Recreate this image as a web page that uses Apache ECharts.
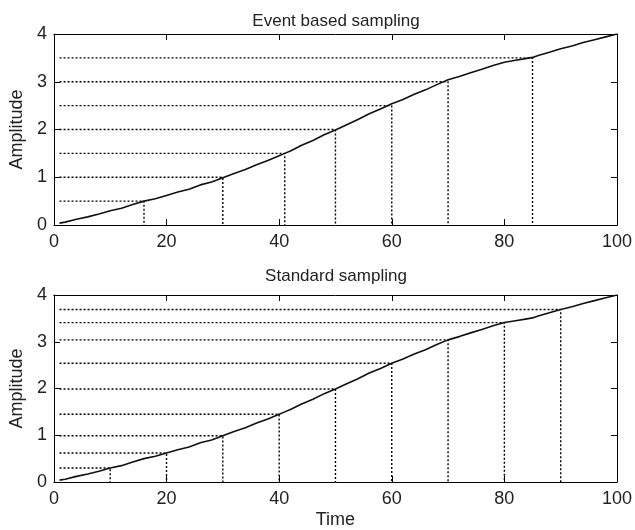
<!DOCTYPE html>
<html>
<head>
<meta charset="utf-8">
<script src="https://cdn.jsdelivr.net/npm/echarts@6/dist/echarts.min.js"></script>
<style>
  html, body { margin: 0; padding: 0; background: #fff; }
  #chart { width: 635px; height: 530px; }
</style>
</head>
<body>
<div id="chart"></div>
<script>
// Signal: amplitude ramp over time
const curveTime = [1, 2, 4, 6, 8, 10, 12, 14, 16, 18, 20, 22, 24, 26, 28, 30, 32, 34, 36, 38,
  40, 41, 42, 44, 46, 48, 50, 52, 54, 56, 58, 60, 62, 64, 66, 68, 70, 72, 74, 76, 78,
  80, 82, 84, 85, 86, 88, 90, 92, 94, 96, 98, 100];
const curveAmp = [0.04, 0.06, 0.12, 0.17, 0.23, 0.30, 0.35, 0.43, 0.50, 0.55, 0.62, 0.69, 0.75, 0.84, 0.90, 0.99, 1.08, 1.16, 1.26, 1.35,
  1.45, 1.50, 1.55, 1.67, 1.77, 1.89, 1.99, 2.10, 2.21, 2.33, 2.43, 2.54, 2.63, 2.74, 2.83, 2.94, 3.04, 3.11, 3.19, 3.26, 3.34,
  3.41, 3.45, 3.49, 3.51, 3.55, 3.62, 3.69, 3.75, 3.82, 3.88, 3.94, 4.00];

// Event based sampling: level crossings
const eventTimes = [16, 30, 41, 50, 60, 70, 85];
const eventLevels = [0.5, 1.0, 1.5, 2.0, 2.5, 3.0, 3.5];

// Standard sampling: fixed period
const stdTimes = [10, 20, 30, 40, 50, 60, 70, 80, 90];
const stdAmps = [0.30, 0.62, 0.99, 1.45, 1.99, 2.54, 3.04, 3.41, 3.69];

const xTicks = [0, 20, 40, 60, 80, 100];
const yTicks = [0, 1, 2, 3, 4];

const startTime = 1;
const FONT = '"Liberation Sans", Arial, sans-serif';
const TXT = '#222';

const chart = echarts.init(document.getElementById('chart'), null, { renderer: 'canvas' });

const grids = [
  { left: 48, right: 17, top: 34, height: 191 },
  { left: 48, right: 17, top: 295, height: 188 }
];

function xAx(gridIndex, pos, showLabels, name) {
  return {
    type: 'value', gridIndex, position: pos,
    min: xTicks[0], max: xTicks[xTicks.length - 1], interval: 20,
    name: name || '', nameLocation: 'middle', nameGap: 29,
    nameTextStyle: { fontFamily: FONT, fontSize: 18, color: TXT },
    axisLine: { show: true, onZero: false, lineStyle: { color: '#000', width: 1 } },
    axisTick: { show: true, inside: true, length: 6, lineStyle: { color: '#000' } },
    axisLabel: { show: showLabels, margin: 8, fontFamily: FONT, fontSize: 18, color: TXT },
    splitLine: { show: false }
  };
}
function yAx(gridIndex, pos, showLabels, name) {
  return {
    type: 'value', gridIndex, position: pos,
    min: yTicks[0], max: yTicks[yTicks.length - 1], interval: 1,
    name: name || '', nameLocation: 'middle', nameGap: 20,
    nameTextStyle: { fontFamily: FONT, fontSize: 18, color: TXT },
    axisLine: { show: true, onZero: false, lineStyle: { color: '#000', width: 1 } },
    axisTick: { show: true, inside: true, length: 6, lineStyle: { color: '#000' } },
    axisLabel: { show: showLabels, margin: 7, fontFamily: FONT, fontSize: 18, color: TXT },
    splitLine: { show: false }
  };
}

const dotted = { color: '#000', width: 1.4, type: [2, 2] };

function sampleSeries(times, values, axisIdx) {
  return times.map((t, i) => ({
    type: 'line', xAxisIndex: axisIdx, yAxisIndex: axisIdx,
    data: [[startTime, values[i]], [t, values[i]], [t, 0]],
    symbol: 'none', silent: true, z: 2,
    lineStyle: dotted
  }));
}

const curveData = curveTime.map((t, i) => [t, curveAmp[i]]);
function curveSeries(axisIdx) {
  return {
    type: 'line', xAxisIndex: axisIdx, yAxisIndex: axisIdx,
    data: curveData, symbol: 'none', silent: true, z: 3,
    lineStyle: { color: '#111', width: 1.6 }
  };
}

chart.setOption({
  animation: false,
  backgroundColor: '#fff',
  title: [
    { text: 'Event based sampling', left: 331, textAlign: 'center', top: 8,
      textStyle: { fontFamily: FONT, fontSize: 17, fontWeight: 'normal', color: TXT } },
    { text: 'Standard sampling', left: 331, textAlign: 'center', top: 263,
      textStyle: { fontFamily: FONT, fontSize: 17, fontWeight: 'normal', color: TXT } }
  ],
  grid: grids,
  xAxis: [xAx(0, 'bottom', true), xAx(0, 'top', false), xAx(1, 'bottom', true, 'Time'), xAx(1, 'top', false)],
  yAxis: [yAx(0, 'left', true, 'Amplitude'), yAx(0, 'right', false), yAx(1, 'left', true, 'Amplitude'), yAx(1, 'right', false)],
  series: [
    ...sampleSeries(eventTimes, eventLevels, 0),
    curveSeries(0),
    ...sampleSeries(stdTimes, stdAmps, 2),
    curveSeries(2)
  ]
});
</script>
</body>
</html>
